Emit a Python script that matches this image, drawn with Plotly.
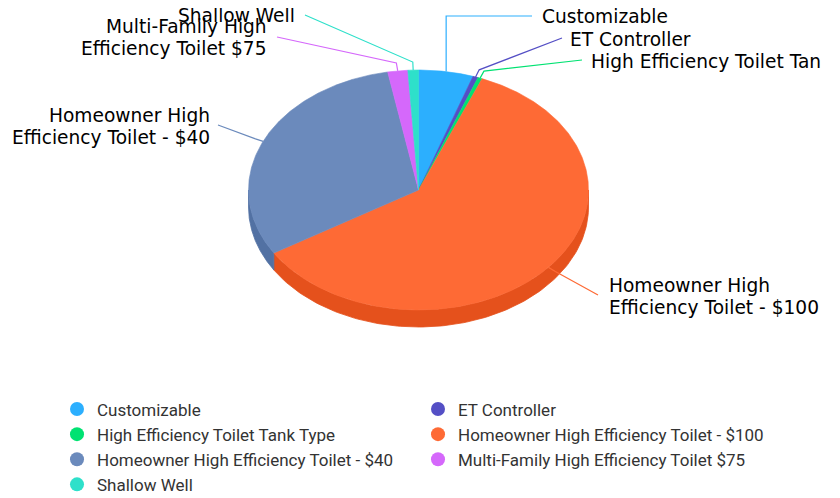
import numpy as np
import plotly.graph_objects as go

# ---------------- data ----------------
categories = [
    "Customizable",
    "ET Controller",
    "High Efficiency Toilet Tank Type",
    "Homeowner High Efficiency Toilet - $100",
    "Homeowner High Efficiency Toilet - $40",
    "Multi-Family High Efficiency Toilet $75",
    "Shallow Well",
]
values = [52, 5, 4, 601, 309, 19, 10]
label_texts = [
    "Customizable",
    "ET Controller",
    "High Efficiency Toilet Tan",
    "Homeowner High<br>Efficiency Toilet - $100",
    "Homeowner High<br>Efficiency Toilet - $40",
    "Multi-Family High<br>Efficiency Toilet $75",
    "Shallow Well",
]

# ---------------- style / layout ----------------
colors = ["#2caffe", "#544fc5", "#00e272", "#fe6a35", "#6b8abc", "#d568fb", "#2ee0ca"]
PAGE_OFF = 8                     # default body margin of the html page
W, H = 840 - PAGE_OFF, 498 - PAGE_OFF
CX, CY, RX, RY, DEPTH = 418.5, 190.0, 170.0, 120.0, 17.0
# connector end (ax, ay), text edge x (tx), text block centre y (ty), side, connector style
label_layout = [
    dict(ax=532, ay=16, tx=540, ty=16.5, side="right", crook="vertical"),
    dict(ax=562, ay=38, tx=568, ty=39, side="right", crook="bend"),
    dict(ax=582, ay=60, tx=589, ty=61.5, side="right", crook="bend"),
    dict(ax=598, ay=295, tx=607, ty=296, side="right", crook="bend"),
    dict(ax=218, ay=125, tx=212, ty=126, side="left", crook="bend"),
    dict(ax=277, ay=37, tx=268.5, ty=37, side="left", crook="bend"),
    dict(ax=305, ay=15, tx=297, ty=15, side="left", crook="bend"),
]
LINE_GAP = 22
LABEL_FONT = dict(family="DejaVu Sans, Verdana, sans-serif", size=18.6, color="#000000")


def darken(hex_color, amount=25):
    h = hex_color.lstrip("#")
    r, g, b = (int(h[i:i + 2], 16) for i in (0, 2, 4))
    return "rgb({},{},{})".format(max(r - amount, 0), max(g - amount, 0), max(b - amount, 0))


def ellipse_pt(theta_deg, dy=0.0):
    t = np.radians(theta_deg)
    return CX + RX * np.sin(t), CY - RY * np.cos(t) + dy


vals = np.array(values, dtype=float)
fracs = vals / vals.sum()
ends = np.cumsum(fracs) * 360.0
starts = ends - fracs * 360.0

fig = go.Figure()

# ---- side walls (front half, 90..270 deg) ----
for i in range(len(values)):
    a = max(starts[i], 90.0)
    b = min(ends[i], 270.0)
    if b <= a:
        continue
    th = np.linspace(a, b, 120)
    xt, yt = ellipse_pt(th)
    xb, yb = ellipse_pt(th[::-1], DEPTH)
    fig.add_trace(go.Scatter(
        x=np.concatenate([xt, xb, xt[:1]]), y=np.concatenate([yt, yb, yt[:1]]),
        mode="lines", fill="toself", fillcolor=darken(colors[i]),
        line=dict(color=darken(colors[i]), width=0.8),
        showlegend=False, hoverinfo="skip"))

# ---- top faces ----
for i in range(len(values)):
    n = max(int((ends[i] - starts[i]) * 2), 6)
    th = np.linspace(starts[i], ends[i], n)
    xs, ys = ellipse_pt(th)
    fig.add_trace(go.Scatter(
        x=np.concatenate([[CX], xs, [CX]]), y=np.concatenate([[CY], ys, [CY]]),
        mode="lines", fill="toself", fillcolor=colors[i],
        line=dict(color=colors[i], width=0.6),
        showlegend=False, hoverinfo="skip"))

# ---- connectors and labels ----
annotations = []
for i in range(len(values)):
    mid = (starts[i] + ends[i]) / 2.0
    ex, ey = ellipse_pt(mid)
    lay = label_layout[i]
    t = np.radians(mid)
    ux, uy = np.sin(t), -np.cos(t) * RY / RX
    nrm = np.hypot(ux, uy)
    if lay["crook"] == "vertical":
        px = [ex, ex, lay["ax"]]
        py = [ey, lay["ay"], lay["ay"]]
    else:
        bx, by = ex + 8 * ux / nrm, ey + 8 * uy / nrm
        px = [ex, bx, lay["ax"]]
        py = [ey, by, lay["ay"]]
    fig.add_trace(go.Scatter(x=px, y=py, mode="lines",
                             line=dict(color=colors[i], width=1.2),
                             showlegend=False, hoverinfo="skip"))
    lines = label_texts[i].split("<br>")
    y0 = lay["ty"] - LINE_GAP * (len(lines) - 1) / 2.0
    for k, line in enumerate(lines):
        annotations.append(dict(
            x=lay["tx"], y=y0 + k * LINE_GAP, xref="x", yref="y",
            text=line, showarrow=False,
            xanchor="left" if lay["side"] == "right" else "right",
            yanchor="middle", align="left" if lay["side"] == "right" else "right",
            font=LABEL_FONT))

# ---- legend entries ----
for i, name in enumerate(categories):
    fig.add_trace(go.Scatter(x=[None], y=[None], mode="markers", name=name,
                             marker=dict(symbol="circle", size=14, color=colors[i]),
                             showlegend=True, hoverinfo="skip"))

fig.update_layout(
    width=W, height=H,
    margin=dict(l=0, r=0, t=0, b=0, autoexpand=False),
    paper_bgcolor="white", plot_bgcolor="white",
    hovermode=False,
    xaxis=dict(range=[PAGE_OFF, PAGE_OFF + W], visible=False, fixedrange=True),
    yaxis=dict(range=[PAGE_OFF + H, PAGE_OFF], visible=False, fixedrange=True),
    annotations=annotations,
    showlegend=True,
    legend=dict(orientation="h", x=49 / W, xanchor="left", y=1 - 383.5 / H, yanchor="top",
                entrywidth=316, entrywidthmode="pixels",
                font=dict(family="Roboto, sans-serif", size=17, color="#333333"),
                bgcolor="rgba(0,0,0,0)"),
)

fig.write_html("out.html")
